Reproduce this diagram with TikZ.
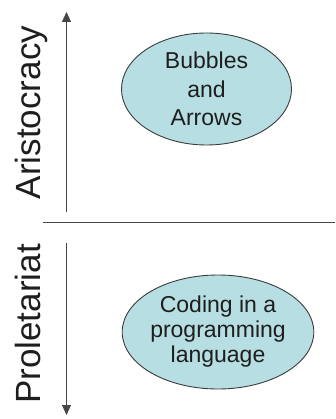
\documentclass[tikz,border=0pt]{standalone}
\usepackage{fontspec}
\setmainfont{Liberation Sans}
\usetikzlibrary{shapes.geometric,arrows.meta}
\definecolor{bubblefill}{RGB}{183,222,226}
\definecolor{bubbleline}{RGB}{60,60,60}
\definecolor{axisline}{RGB}{70,70,70}
\definecolor{textcol}{RGB}{30,30,30}
\begin{document}
\begin{tikzpicture}[x=1pt,y=-1pt,
  bubble/.style={ellipse, draw=bubbleline, line width=0.9pt, fill=bubblefill,
    inner sep=0pt, minimum width=170pt, align=center, text=textcol},
  axis/.style={draw=axisline, line width=1pt},
  tip/.style={-{Triangle[length=10pt,width=9pt]}},
  classlabel/.style={rotate=90, anchor=base, text=textcol,
    font=\fontsize{35}{40}\selectfont}]
\useasboundingbox (0,0) rectangle (335,419);
% labels
\node[classlabel] (aris) at (40,112.5) {Aristocracy};
\node[classlabel] (prol) at (40,324) {Proletariat};
% arrows
\coordinate (a1s) at (66.5,212);
\coordinate (a1e) at (66.5,12);
\coordinate (a2s) at (66.5,243);
\coordinate (a2e) at (66.5,415);
\draw[axis,tip] (a1s) -- (a1e);
\draw[axis,tip] (a2s) -- (a2e);
% divider
\coordinate (d1) at (43,222.5);
\coordinate (d2) at (335,222.5);
\draw[axis] (d1) -- (d2);
% bubbles
\node[bubble, minimum height=112pt, font=\fontsize{23}{28.5}\selectfont]
  (b1) at (206.5,89) {Bubbles\\and\\Arrows};
\node[bubble, minimum height=114pt, font=\fontsize{23}{25}\selectfont]
  (b2) at (218,332) {Coding in a\\programming\\language};
\end{tikzpicture}
\end{document}
